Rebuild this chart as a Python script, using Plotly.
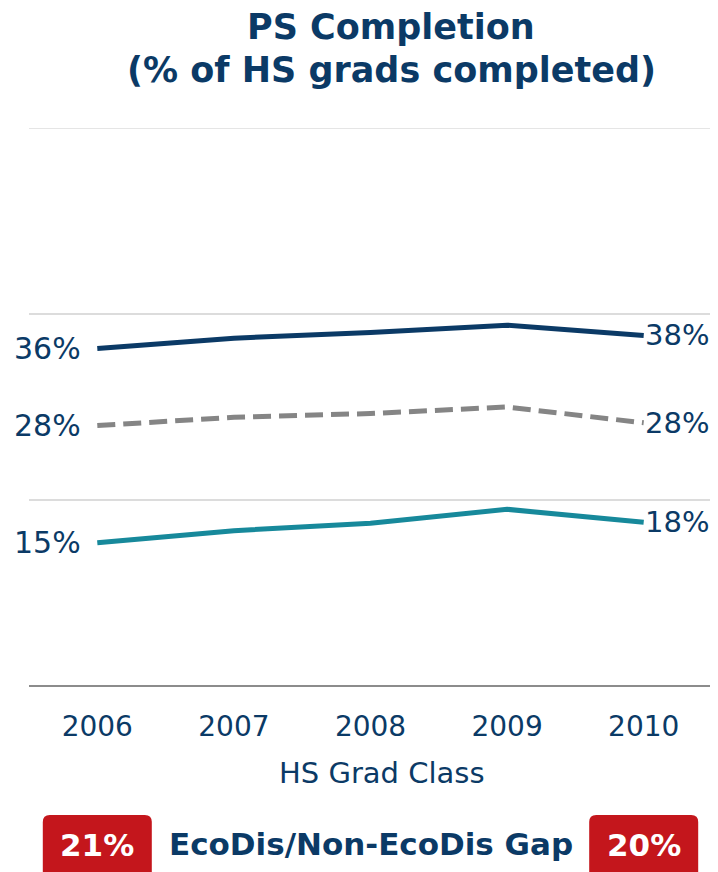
import plotly.graph_objects as go

years = ["2006", "2007", "2008", "2009", "2010"]
non_ecodis = [36.3, 37.4, 38.0, 38.8, 37.7]
all_students = [28.0, 28.9, 29.3, 30.0, 28.3]
ecodis = [15.4, 16.7, 17.5, 19.0, 17.6]

NAVY = "#0b3a66"
TEAL = "#17899b"
GRAY = "#858585"
RED = "#c4161c"
FONT = "DejaVu Sans"

OFF = 8  # default page body margin
W, H = 718 - OFF, 872 - OFF
# plot area in screenshot pixels: x 29..712, y 128..686
PX0, PX1, PY0, PY1 = 29, 712, 128, 686
L, R, T, B = PX0 - OFF, W - (PX1 - OFF), PY0 - OFF, H - (PY1 - OFF)
PW, PH = PX1 - PX0, PY1 - PY0
YMAX = 60


def py(pix):
    return (PY1 - pix) / PH


def px(pix):
    return (pix - PX0) / PW


fig = go.Figure()
series = [
    (non_ecodis, NAVY, "solid", 5),
    (all_students, GRAY, "18px,8px", 5),
    (ecodis, TEAL, "solid", 5),
]
for vals, col, dash, w in series:
    fig.add_trace(go.Scatter(x=years, y=vals, mode="lines",
                             line=dict(color=col, width=w, dash=dash),
                             showlegend=False, hoverinfo="skip"))

ann = []
last = len(years) - 1
for vals, col, dash, w in series:
    ann.append(dict(x=0, y=vals[0], text=f"{round(vals[0])}%", xref="x", yref="y",
                    xanchor="right", yanchor="middle", xshift=-14, showarrow=False,
                    font=dict(family=FONT, size=30, color=NAVY)))
    ann.append(dict(x=last, y=vals[-1], text=f"{round(vals[-1])}%", xref="x", yref="y",
                    xanchor="left", yanchor="middle", xshift=-1, showarrow=False,
                    font=dict(family=FONT, size=29, color=NAVY)))

# title lines
ann.append(dict(x=px(391), y=py(27), xref="paper", yref="paper",
                text="<b>PS Completion</b>", showarrow=False,
                xanchor="center", yanchor="middle",
                font=dict(family=FONT, size=35, color=NAVY)))
ann.append(dict(x=px(391), y=py(70), xref="paper", yref="paper",
                text="<b>(% of HS grads completed)</b>", showarrow=False,
                xanchor="center", yanchor="middle",
                font=dict(family=FONT, size=35, color=NAVY)))

ann.append(dict(x=px(382), y=py(773), xref="paper", yref="paper", text="HS Grad Class",
                showarrow=False, xanchor="center", yanchor="middle",
                font=dict(family=FONT, size=29, color=NAVY)))
ann.append(dict(x=px(371), y=py(844), xref="paper", yref="paper",
                text="<b>EcoDis/Non-EcoDis Gap</b>", showarrow=False,
                xanchor="center", yanchor="middle",
                font=dict(family=FONT, size=31, color=NAVY)))

gaps = [round(non_ecodis[0] - ecodis[0]), round(non_ecodis[-1] - ecodis[-1])]
shapes = [dict(type="line", xref="paper", yref="y", x0=0, x1=1, y0=YMAX, y1=YMAX,
               line=dict(color="#dcdcdc", width=1.5), layer="below")]
r_x, r_y = 7 / PW, 7 / PH
for idx, g in zip([0, last], gaps):
    cx = (idx + 0.5) / len(years)
    x0, x1 = cx - 54.5 / PW, cx + 54.5 / PW
    y1, y0 = py(815), py(878)
    path = (f"M {x0+r_x},{y1} L {x1-r_x},{y1} Q {x1},{y1} {x1},{y1-r_y} "
            f"L {x1},{y0+r_y} Q {x1},{y0} {x1-r_x},{y0} L {x0+r_x},{y0} "
            f"Q {x0},{y0} {x0},{y0+r_y} L {x0},{y1-r_y} Q {x0},{y1} {x0+r_x},{y1} Z")
    shapes.append(dict(type="path", path=path, xref="paper", yref="paper",
                       fillcolor=RED, line=dict(width=0), layer="above"))
    ann.append(dict(x=cx, y=py(845), xref="paper", yref="paper", text=f"<b>{g}%</b>",
                    showarrow=False, xanchor="center", yanchor="middle",
                    font=dict(family=FONT, size=31, color="white")))

fig.update_layout(
    width=W, height=H,
    margin=dict(l=L, r=R, t=T, b=B),
    paper_bgcolor="white", plot_bgcolor="white",
    xaxis=dict(type="category", showgrid=False, showline=False, zeroline=False,
               tickfont=dict(family=FONT, size=28, color=NAVY), ticks="",
               ticklabelstandoff=21, range=[-0.5, 4.5], automargin=False),
    yaxis=dict(range=[0, YMAX], tickvals=[0, 20, 40, 60], showticklabels=False,
               showgrid=True, gridcolor="#dcdcdc", gridwidth=1.5,
               zeroline=True, zerolinecolor="#8c8c8c", zerolinewidth=2,
               showline=False, automargin=False),
    annotations=ann, shapes=shapes,
)

fig.write_html("out.html")
